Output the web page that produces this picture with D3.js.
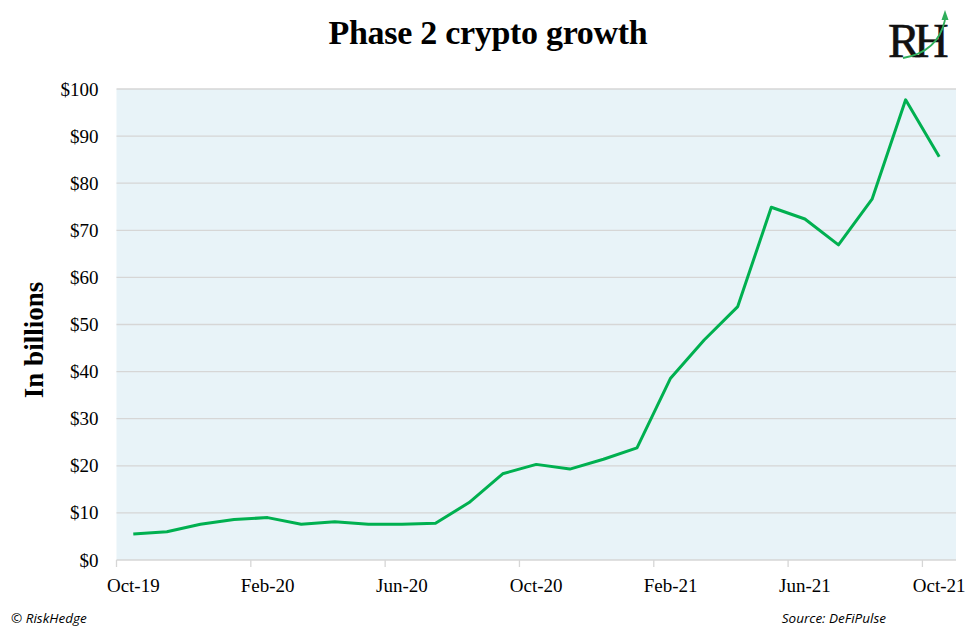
<!DOCTYPE html>
<html>
<head>
<meta charset="utf-8">
<script src="https://cdn.jsdelivr.net/npm/d3@7"></script>
<style>
  body { margin: 0; background: #fff; }
  svg { display: block; }
</style>
</head>
<body>
<div id="chart"></div>
<script>
//Month labels (category axis) and the values in billions
const months = ["Oct-19", "Nov-19", "Dec-19", "Jan-20", "Feb-20", "Mar-20", "Apr-20", "May-20",
    "Jun-20", "Jul-20", "Aug-20", "Sep-20", "Oct-20", "Nov-20", "Dec-20", "Jan-21", "Feb-21",
    "Mar-21", "Apr-21", "May-21", "Jun-21", "Jul-21", "Aug-21", "Sep-21", "Oct-21"];
const tvl = [5.5, 6.0, 7.6, 8.6, 9.0, 7.6, 8.1, 7.6, 7.6, 7.8, 12.2, 18.3, 20.3, 19.3, 21.4,
    23.8, 38.6, 46.7, 53.8, 74.9, 72.4, 66.9, 76.6, 97.7, 85.6];
const yTicks = [0, 10, 20, 30, 40, 50, 60, 70, 80, 90, 100];
//Only every 4th month gets a tick and a label
const labelEvery = 4;

const w = 977;
const h = 639;
const margin = { top: 89, right: 21, bottom: 79, left: 116.5 };

const svg = d3.select("#chart")
    .append("svg")
    .attr("width", w)
    .attr("height", h);

//Category scale, points sit in the middle of each band
const x = d3.scaleBand()
    .domain(months)
    .range([margin.left, w - margin.right]);

const y = d3.scaleLinear()
    .domain([0, 100])
    .range([h - margin.bottom, margin.top]);

//Plot background
svg.append("rect")
    .attr("x", margin.left)
    .attr("y", margin.top)
    .attr("width", w - margin.left - margin.right)
    .attr("height", h - margin.top - margin.bottom)
    .attr("fill", "#e8f3f8");

//Horizontal grid lines
svg.append("g")
    .selectAll("line")
    .data(yTicks)
    .join("line")
    .attr("x1", margin.left)
    .attr("x2", w - margin.right)
    .attr("y1", d => y(d))
    .attr("y2", d => y(d))
    .attr("stroke", "#d6d6d6")
    .attr("stroke-width", 1.3);

//Y axis labels
const yAxis = d3.axisLeft(y)
    .tickValues(yTicks)
    .tickSize(0)
    .tickPadding(18)
    .tickFormat(d => "$" + d);

svg.append("g")
    .attr("transform", "translate(" + margin.left + ",0)")
    .call(yAxis)
    .call(g => g.select(".domain").remove())
    .selectAll("text")
    .attr("font-family", "Liberation Serif, serif")
    .attr("font-size", 19)
    .attr("fill", "#000");

//X axis: ticks on the left edge of each labelled band, labels centred on the band
const labelled = months.filter((d, i) => i % labelEvery === 0);

const xAxisG = svg.append("g")
    .attr("transform", "translate(0," + y(0) + ")");

xAxisG.selectAll("line")
    .data(labelled)
    .join("line")
    .attr("x1", d => x(d))
    .attr("x2", d => x(d))
    .attr("y1", 0)
    .attr("y2", 7)
    .attr("stroke", "#d6d6d6")
    .attr("stroke-width", 1.3);

xAxisG.selectAll("text")
    .data(labelled)
    .join("text")
    .attr("x", d => x(d) + x.bandwidth() / 2)
    .attr("y", 32)
    .attr("text-anchor", "middle")
    .attr("font-family", "Liberation Serif, serif")
    .attr("font-size", 19)
    .attr("fill", "#000")
    .text(d => d);

//The line itself
const line = d3.line()
    .x((d, i) => x(months[i]) + x.bandwidth() / 2)
    .y(d => y(d));

svg.append("path")
    .datum(tvl)
    .attr("fill", "none")
    .attr("stroke", "#00b050")
    .attr("stroke-width", 3)
    .attr("stroke-linejoin", "round")
    .attr("d", line);

//Title
svg.append("text")
    .attr("x", 488)
    .attr("y", 44)
    .attr("text-anchor", "middle")
    .attr("font-family", "Liberation Serif, serif")
    .attr("font-weight", "bold")
    .attr("font-size", 34)
    .attr("letter-spacing", -0.3)
    .text("Phase 2 crypto growth");

//Y axis title
svg.append("text")
    .attr("transform", "translate(43,340) rotate(-90)")
    .attr("text-anchor", "middle")
    .attr("font-family", "Liberation Serif, serif")
    .attr("font-weight", "bold")
    .attr("font-size", 27)
    .text("In billions");

//Footer notes
svg.append("text")
    .attr("x", 11)
    .attr("y", 623)
    .attr("font-family", "Open Sans, sans-serif")
    .attr("font-style", "italic")
    .attr("font-size", 13.5)
    .text("© RiskHedge");

svg.append("text")
    .attr("x", 886)
    .attr("y", 623)
    .attr("text-anchor", "end")
    .attr("font-family", "Open Sans, sans-serif")
    .attr("font-style", "italic")
    .attr("font-size", 13.5)
    .text("Source: DeFiPulse");

//Logo: RH letters with a green arrow sweeping up
const logo = svg.append("g");
logo.append("text")
    .attr("x", 888)
    .attr("y", 57)
    .attr("font-family", "Liberation Serif, serif")
    .attr("font-size", 48)
    .attr("letter-spacing", -6)
    .attr("fill", "#111")
    .attr("stroke", "#111")
    .attr("stroke-width", 0.6)
    .text("RH");
logo.append("path")
    .attr("d", "M903,58 Q938,52 945,20")
    .attr("fill", "none")
    .attr("stroke", "#2fae5b")
    .attr("stroke-width", 1.8);
logo.append("path")
    .attr("d", "M945,10 L941.5,20 L948.5,20 Z")
    .attr("fill", "#2fae5b");
</script>
</body>
</html>
